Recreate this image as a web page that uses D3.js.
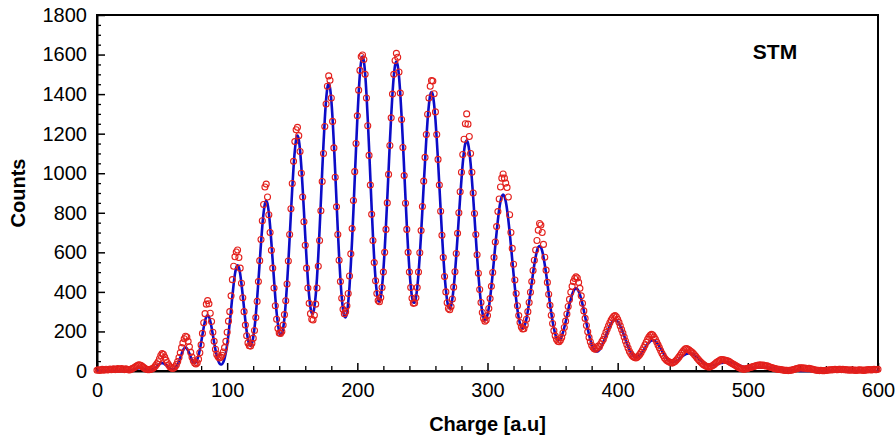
<!DOCTYPE html>
<html>
<head>
<meta charset="utf-8">
<script src="https://cdn.jsdelivr.net/npm/d3@7"></script>
<style>
    body { margin: 0; background: #fff; }
    text { font-family: "Liberation Sans", Arial, sans-serif; fill: #000; }
    .tick text { font-size: 20px; }
    .title { font-size: 20px; font-weight: bold; }
</style>
</head>
<body>
<div id="root"></div>
<script>
// fitted curve, one value per charge unit (index = charge 0..600)
const fitCounts = [
    0,0,0,0,0,0,0,0,0,0,
    0,0,0,0,0,0,0,0,0,0,
    0,0,0,1,1,2,3,5,6,9,
    11,12,14,14,14,12,11,9,6,5,
    5,5,7,9,13,18,24,30,35,39,
    40,39,35,30,24,19,14,10,9,10,
    15,23,34,50,68,86,103,114,118,114,
    103,88,71,55,45,41,45,57,79,108,
    144,183,221,253,274,282,274,253,221,183,
    144,108,77,54,39,33,34,44,64,93,
    133,185,245,311,378,440,491,524,535,524,
    491,440,381,316,254,200,159,134,127,138,
    169,218,283,364,455,551,647,733,801,845,
    860,845,801,733,647,555,460,371,295,237,
    197,181,186,215,267,343,439,550,673,799,
    922,1031,1116,1171,1190,1171,1116,1031,922,805,
    682,565,462,378,320,291,292,323,381,470,
    582,715,859,1008,1147,1273,1371,1433,1455,1433,
    1371,1273,1147,1008,859,713,579,465,375,312,
    277,271,293,347,428,537,665,811,969,1124,
    1274,1402,1504,1568,1590,1568,1504,1402,1274,1131,
    977,824,684,563,465,396,357,351,374,427,
    507,611,735,871,1014,1157,1288,1402,1490,1546,
    1565,1546,1490,1402,1288,1158,1017,875,739,616,
    513,432,375,347,345,369,420,493,587,696,
    816,940,1058,1173,1272,1347,1395,1410,1395,1347,
    1272,1173,1062,940,816,696,585,489,413,356,
    325,316,328,365,420,494,582,678,780,879,
    969,1051,1113,1152,1165,1152,1113,1051,969,879,
    779,677,578,488,408,345,298,270,257,262,
    284,319,368,427,494,563,635,701,764,818,
    858,883,892,883,858,818,764,704,635,563,
    492,424,363,310,268,239,220,214,221,239,
    267,304,348,396,446,495,540,577,607,626,
    632,626,607,576,537,494,444,392,341,294,
    251,216,188,169,158,157,162,176,195,220,
    247,277,308,338,363,386,403,414,418,414,
    403,386,363,337,306,274,243,212,183,158,
    137,120,108,101,99,101,107,117,130,145,
    162,180,197,214,228,241,250,256,258,256,
    250,241,228,213,196,178,160,141,124,109,
    96,85,77,71,69,70,73,79,87,96,
    106,117,127,137,143,150,154,155,154,150,
    143,135,125,115,103,92,81,71,62,55,
    50,46,45,45,47,50,54,59,65,70,
    76,80,84,87,89,90,89,87,84,79,
    75,70,64,58,52,46,41,37,33,31,
    29,28,28,29,30,31,33,35,37,40,
    41,43,44,45,45,45,44,43,42,40,
    37,35,32,30,27,25,23,21,19,18,
    17,16,16,16,16,16,16,17,17,18,
    18,18,18,18,18,18,17,17,16,15,
    14,13,12,11,10,9,8,7,6,5,
    4,4,3,2,2,2,1,1,1,1,
    0,0,0,0,0,0,0,0,0,0,
    0,0,0,0,0,0,0,0,0,0,
    0,0,0,0,0,0,0,0,0,0,
    0,0,0,0,0,0,0,0,0,0,
    0,0,0,0,0,0,0,0,0,0,
    0,0,0,0,0,0,0,0,0,0,
    0
]

// measured counts, one value per charge unit (index = charge 0..600)
const measuredCounts = [
    4,6,3,5,8,4,6,9,5,7,
    10,6,8,11,7,9,12,8,10,13,
    9,7,11,8,6,5,8,12,15,19,
    24,28,31,30,27,22,17,12,9,7,
    6,8,10,14,19,27,36,47,62,78,
    88,84,70,55,42,31,22,16,13,15,
    21,32,48,68,92,118,142,163,176,172,
    150,122,94,70,52,40,36,42,60,92,
    132,190,244,290,338,356,340,292,250,196,
    150,110,84,72,66,70,80,96,118,150,
    196,252,300,380,462,530,578,602,612,574,
    520,444,370,300,232,178,142,128,126,140,
    166,205,270,352,452,558,665,760,842,930,
    945,880,790,700,610,520,420,330,262,215,
    192,190,200,232,285,355,440,556,690,820,
    948,1060,1160,1220,1232,1190,1110,1000,880,755,
    636,520,420,342,290,262,258,282,338,420,
    530,660,810,958,1100,1236,1350,1440,1492,1470,
    1380,1262,1128,980,830,690,560,452,368,312,
    290,300,330,392,480,592,720,862,1008,1150,
    1290,1420,1520,1590,1598,1575,1500,1380,1240,1090,
    940,792,660,548,456,392,356,350,372,422,
    500,600,716,850,994,1140,1280,1400,1500,1570,
    1606,1586,1512,1405,1272,1130,988,848,716,600,
    500,422,368,342,344,370,422,500,598,710,
    832,960,1080,1196,1298,1380,1440,1468,1466,1402,
    1310,1196,1070,940,808,686,574,478,400,345,
    316,310,326,364,424,502,594,696,800,906,
    1005,1095,1172,1250,1300,1248,1186,1100,1005,900,
    796,690,588,494,412,346,296,266,252,258,
    280,316,366,428,498,574,652,730,806,870,
    930,975,996,975,950,928,880,790,700,620,
    540,460,392,330,280,245,222,212,214,232,
    262,300,346,398,452,508,560,612,660,712,
    746,738,700,640,575,510,448,388,332,282,
    240,204,178,160,150,148,156,170,192,220,
    252,288,326,362,398,428,452,468,476,470,
    448,418,380,342,304,266,230,198,170,148,
    130,120,112,110,116,126,122,138,150,160,
    178,196,212,228,244,258,268,276,280,274,
    262,246,228,210,192,172,152,134,116,100,
    88,78,72,68,66,70,76,84,94,106,
    118,132,146,160,172,180,185,182,172,160,
    146,132,118,104,90,78,66,58,52,48,
    44,42,40,44,48,54,62,70,80,90,
    98,106,112,114,110,106,100,96,90,82,
    74,66,58,50,44,38,32,28,24,22,
    20,21,24,28,32,38,44,48,52,56,
    58,57,55,54,52,50,46,42,38,34,
    30,26,22,18,15,12,10,9,10,12,
    14,16,18,20,22,24,26,28,30,29,
    31,28,30,27,25,26,23,20,18,16,
    14,12,10,9,8,7,6,5,4,3,
    3,2,3,4,5,7,9,11,13,15,
    16,15,16,14,15,13,12,14,11,10,
    8,6,5,4,3,2,3,2,1,2,
    3,4,5,6,5,7,6,8,7,6,
    8,9,7,8,6,7,5,6,4,5,
    6,4,5,3,4,5,6,4,5,3,
    4,6,5,7,6,5,7,8,6,7,
    9
]

const xTicks = [0, 100, 200, 300, 400, 500, 600]
const yTicks = [0, 200, 400, 600, 800, 1000, 1200, 1400, 1600, 1800]
const xLabel = "Charge [a.u]"
const yLabel = "Counts"
const panelLabel = "STM"

function drawChart() {
    const w = 896, h = 440
    const left = 97, right = 878, top = 15, bottom = 371

    const x = d3.scaleLinear()
        .domain([0, 600])
        .range([left, right])

    const y = d3.scaleLinear()
        .domain([0, 1800])
        .range([bottom, top])

    const svg = d3.select("#root").append("svg")
        .attr("width", w)
        .attr("height", h)

    // minor ticks first, majors drawn over them
    const xMinor = d3.range(0, 601, 20).filter(v => v % 100 !== 0)
    const yMinor = d3.range(0, 1801, 50).filter(v => v % 200 !== 0)

    svg.append("g")
        .attr("transform", `translate(0,${bottom})`)
        .call(d3.axisBottom(x).tickValues(xMinor).tickSizeInner(-5).tickSizeOuter(0).tickFormat(""))
        .call(g => g.select(".domain").remove())
        .call(g => g.selectAll("line").attr("stroke-width", 1.3))

    svg.append("g")
        .attr("transform", `translate(${left},0)`)
        .call(d3.axisLeft(y).tickValues(yMinor).tickSizeInner(-4).tickSizeOuter(0).tickFormat(""))
        .call(g => g.select(".domain").remove())
        .call(g => g.selectAll("line").attr("stroke-width", 1.3))

    svg.append("g")
        .attr("transform", `translate(0,${bottom})`)
        .call(d3.axisBottom(x).tickValues(xTicks).tickSizeInner(-8).tickSizeOuter(0).tickPadding(12).tickFormat(d3.format("d")))
        .call(g => g.select(".domain").attr("stroke-width", 2))
        .call(g => g.selectAll("line").attr("stroke-width", 1.5))

    svg.append("g")
        .attr("transform", `translate(${left},0)`)
        .call(d3.axisLeft(y).tickValues(yTicks).tickSizeInner(-8).tickSizeOuter(0).tickPadding(10).tickFormat(d3.format("d")))
        .call(g => g.select(".domain").attr("stroke-width", 2))
        .call(g => g.selectAll("line").attr("stroke-width", 1.5))

    // box
    svg.append("rect")
        .attr("x", left)
        .attr("y", top)
        .attr("width", right - left)
        .attr("height", bottom - top)
        .attr("fill", "none")
        .attr("stroke", "#000")
        .attr("stroke-width", 2)

    const line = d3.line()
        .x((d, i) => x(i))
        .y(d => y(d))
        .curve(d3.curveMonotoneX)

    svg.append("path")
        .datum(fitCounts)
        .attr("d", line)
        .attr("fill", "none")
        .attr("stroke", "#0c0cc8")
        .attr("stroke-width", 2.6)

    svg.append("g").selectAll("circle")
        .data(measuredCounts)
        .enter()
        .append("circle")
        .attr("cx", (d, i) => x(i))
        .attr("cy", d => y(d))
        .attr("r", 3)
        .attr("fill", "none")
        .attr("stroke", "#e3201c")
        .attr("stroke-width", 1.1)

    svg.append("text")
        .classed("title", true)
        .attr("x", (left + right) / 2)
        .attr("y", 431)
        .attr("text-anchor", "middle")
        .text(xLabel)

    svg.append("text")
        .classed("title", true)
        .attr("transform", "translate(25,193) rotate(-90)")
        .attr("text-anchor", "middle")
        .text(yLabel)

    svg.append("text")
        .classed("title", true)
        .attr("x", 775)
        .attr("y", 59)
        .attr("text-anchor", "middle")
        .style("font-size", "21px")
        .text(panelLabel)
}

drawChart()
</script>
</body>
</html>
